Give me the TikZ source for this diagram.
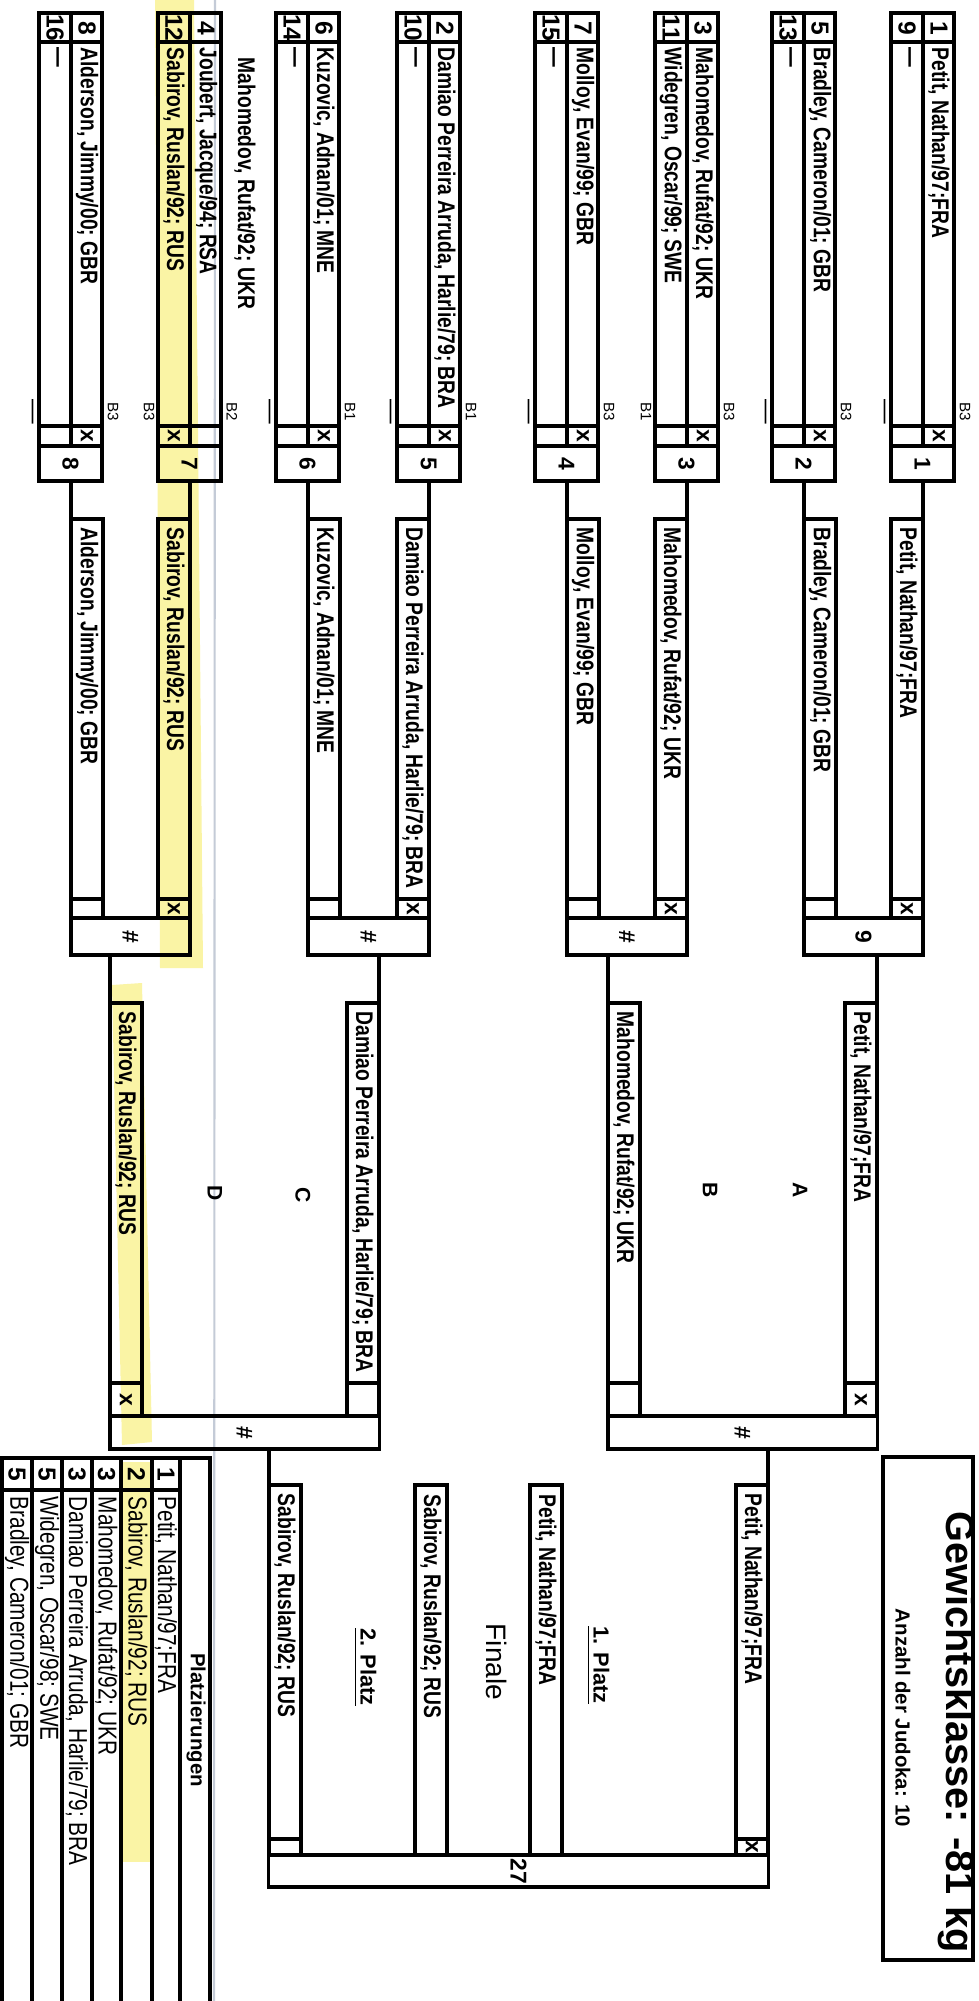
\documentclass[tikz,border=0pt]{standalone}
\usepackage{fontspec}
\setmainfont{Liberation Sans}
\newfontfamily\slimfont[FakeStretch=0.8]{Liberation Sans}
\usepackage{graphicx}
\definecolor{marker}{RGB}{250,244,165}
\definecolor{scanline}{RGB}{196,203,215}

\tikzset{
  frame/.style={line width=0.9pt},
  pname/.style={rotate=-90, anchor=west, inner sep=0pt, font=\slimfont\bfseries\fontsize{6.85}{8}\selectfont},
  tname/.style={rotate=-90, anchor=west, inner sep=0pt, font=\slimfont\fontsize{7.4}{8}\selectfont},
  pnum/.style={rotate=-90, inner sep=0pt, font=\bfseries\fontsize{7}{8}\selectfont},
  boutag/.style={rotate=-90, inner sep=0pt, font=\fontsize{4.3}{5}\selectfont},
  xmark/.style={rotate=-90, inner sep=0pt, font=\bfseries\fontsize{6.5}{7}\selectfont},
  mbox/.style={draw, line width=0.9pt, inner sep=0pt, font=\bfseries\fontsize{6.5}{7}\selectfont},
  poolletter/.style={rotate=-90, inner sep=0pt, font=\bfseries\fontsize{6}{7}\selectfont},
  platz/.style={rotate=-90, inner sep=0pt, font=\bfseries\fontsize{6.2}{7}\selectfont},
}
\newcommand{\nix}{{\fontsize{7}{8}\selectfont\textemdash}}

% first round pool: left x, top no., bottom no., top name, bottom name,
% x-cell offset, top tag, bottom tag, match no.
\newcommand{\pool}[9]{%
  \begin{scope}[shift={(#1,0)}]
    \draw[frame] (0,13) rectangle (63,446);
    \draw[frame] (32,13) -- (32,446) (0,42) -- (63,42) (0,426) -- (63,426);
    \node[pnum] (p#9a) at (48,28) {#2};
    \node[pnum] (p#9b) at (16,28) {#3};
    \node[pname] (p#9an) at (48,47) {#4};
    \node[pname] (p#9bn) at (16,47) {#5};
    \node[xmark] (p#9x) at (#6,436) {x};
    \node[boutag] (p#9at) at (74,412) {#7};
    \node[boutag] (p#9bt) at (-9,412) {#8};
    \node[mbox, minimum width=0.63cm, minimum height=0.35cm] (m#9) at (31.5,463.5) {\rotatebox{-90}{#9}};
  \end{scope}}

% one entry strip: name, left x, top y, x-row y, bottom y, text, mark
\newcommand{\entry}[7]{%
  \draw[frame] (#2,#3) rectangle (#2+32,#5);
  \draw[frame] (#2,#4) -- (#2+32,#4);
  \coordinate (#1) at (#2,#3);
  \coordinate (#1r) at (#2+32,#3);
  \node[pname] (#1t) at (#2+16,#3+8) {#6};
  \node[xmark] (#1x) at (#2+16,{(#4+#5)/2}) {#7};}

\begin{document}
\begin{tikzpicture}[x=0.01cm, y=-0.01cm]
  \fill[white] (0,0) rectangle (978,2001);
  \useasboundingbox (0,0) rectangle (978,2001);
  % highlighter strokes and scanner streak
  \fill[marker] (155,0) -- (194,0) -- (203,968) -- (160,968) -- cycle;
  \fill[marker] (112,985) -- (142,983) -- (152,1442) -- (122,1445) -- cycle;
  \fill[marker] (122,1462) rectangle (152,1862);
  \draw[scanline, line width=0.6pt] (215,0) -- (214,2001);

  % first round
  \pool{891}{1}{9}{Petit, Nathan/97;FRA}{\nix}{48}{B3}{\nix}{1}
  \pool{772}{5}{13}{Bradley, Cameron/01; GBR}{\nix}{48}{B3}{\nix}{2}
  \pool{655}{3}{11}{Mahomedov, Rufat/92; UKR}{Widegren, Oscar/99; SWE}{48}{B3}{B1}{3}
  \pool{535}{7}{15}{Molloy, Evan/99; GBR}{\nix}{48}{B3}{\nix}{4}
  \pool{397}{2}{10}{Damiao Perreira Arruda, Harlie/79; BRA}{\nix}{48}{B1}{\nix}{5}
  \pool{276}{6}{14}{Kuzovic, Adnan/01; MNE}{\nix}{48}{B1}{\nix}{6}
  \pool{158}{4}{12}{Joubert, Jacque/94; RSA}{Sabirov, Ruslan/92; RUS}{16}{B2}{B3}{7}
  \pool{39}{8}{16}{Alderson, Jimmy/00; GBR}{\nix}{48}{B3}{\nix}{8}
  \node[pname] (note) at (245,57) {Mahomedov, Rufat/92; UKR};

  % second round
  \entry{s8}{71}{519}{899}{918}{Alderson, Jimmy/00; GBR}{}
  \entry{s7}{158}{519}{899}{918}{Sabirov, Ruslan/92; RUS}{x}
  \entry{s6}{308}{519}{899}{918}{Kuzovic, Adnan/01; MNE}{}
  \entry{s5}{397}{519}{899}{918}{Damiao Perreira Arruda, Harlie/79; BRA}{x}
  \entry{s4}{567}{519}{899}{918}{Molloy, Evan/99; GBR}{}
  \entry{s3}{655}{519}{899}{918}{Mahomedov, Rufat/92; UKR}{x}
  \entry{s2}{804}{519}{899}{918}{Bradley, Cameron/01; GBR}{}
  \entry{s1}{891}{519}{899}{918}{Petit, Nathan/97;FRA}{x}
  \draw[frame] (m8.south -| s8) -- (s8);
  \draw[frame] (m7.south -| s7r) -- (s7r);
  \draw[frame] (m6.south -| s6) -- (s6);
  \draw[frame] (m5.south -| s5r) -- (s5r);
  \draw[frame] (m4.south -| s4) -- (s4);
  \draw[frame] (m3.south -| s3r) -- (s3r);
  \draw[frame] (m2.south -| s2) -- (s2);
  \draw[frame] (m1.south -| s1r) -- (s1r);
  \node[mbox, minimum width=1.19cm, minimum height=0.37cm] (m12) at (130.5,936.5) {\rotatebox{-90}{\#}};
  \node[mbox, minimum width=1.21cm, minimum height=0.37cm] (m11) at (368.5,936.5) {\rotatebox{-90}{\#}};
  \node[mbox, minimum width=1.20cm, minimum height=0.37cm] (m10) at (627,936.5) {\rotatebox{-90}{\#}};
  \node[mbox, minimum width=1.19cm, minimum height=0.37cm] (m9) at (863.5,936.5) {\rotatebox{-90}{9}};

  % semi finals
  \entry{h12}{110}{1003}{1383}{1416}{Sabirov, Ruslan/92; RUS}{x}
  \entry{h11}{347}{1003}{1383}{1416}{Damiao Perreira Arruda, Harlie/79; BRA}{}
  \entry{h10}{608}{1003}{1383}{1416}{Mahomedov, Rufat/92; UKR}{}
  \entry{h9}{845}{1003}{1383}{1416}{Petit, Nathan/97;FRA}{x}
  \draw[frame] (m12.south -| h12) -- (h12);
  \draw[frame] (m11.south -| h11r) -- (h11r);
  \draw[frame] (m10.south -| h10) -- (h10);
  \draw[frame] (m9.south -| h9r) -- (h9r);
  \node[mbox, minimum width=2.69cm, minimum height=0.33cm] (m13) at (244.5,1432.5) {\rotatebox{-90}{\#}};
  \node[mbox, minimum width=2.69cm, minimum height=0.33cm] (m14) at (742.5,1432.5) {\rotatebox{-90}{\#}};
  \node[poolletter] (pD) at (215,1193) {D};
  \node[poolletter] (pC) at (303,1195) {C};
  \node[poolletter] (pB) at (710,1190) {B};
  \node[poolletter] (pA) at (800,1190) {A};

  % final
  \entry{f13}{269}{1485}{1839}{1855}{Sabirov, Ruslan/92; RUS}{}
  \entry{f14}{736}{1485}{1839}{1855}{Petit, Nathan/97;FRA}{x}
  \draw[frame] (m13.south -| f13) -- (f13);
  \draw[frame] (m14.south -| f14r) -- (f14r);
  \draw[frame] (415,1485) rectangle (447,1855);
  \node[pname] (second) at (431,1494) {Sabirov, Ruslan/92; RUS};
  \draw[frame] (530,1485) rectangle (562,1855);
  \node[pname] (first) at (546,1494) {Petit, Nathan/97;FRA};
  \node[mbox, minimum width=4.99cm, minimum height=0.32cm] (m27) at (518.5,1871) {\rotatebox{-90}{27}};
  \node[platz] (platz2) at (365,1667) {\underline{2. Platz}};
  \node[platz] (platz1) at (598,1665) {\underline{1. Platz}};
  \node[rotate=-90, inner sep=0pt, font=\fontsize{8}{9}\selectfont] (finale) at (497,1662) {Finale};

  % placings
  \draw[frame] (2,2003) -- (2,1458) -- (210,1458) -- (210,2003);
  \draw[frame] (32,1458) -- (32,2003) (62,1458) -- (62,2003) (92,1458) -- (92,2003)
               (121,1458) -- (121,2003) (152,1458) -- (152,2003) (180,1458) -- (180,2003);
  \draw[frame] (2,1490) -- (180,1490);
  \node[platz, font=\bfseries\fontsize{5.8}{7}\selectfont] (plz) at (196,1720) {Platzierungen};
  \node[pnum] (r1) at (166,1474) {1};
  \node[tname] (r1n) at (166,1496) {Petit, Nathan/97;FRA};
  \node[pnum] (r2) at (136.5,1474) {2};
  \node[tname] (r2n) at (136.5,1496) {Sabirov, Ruslan/92; RUS};
  \node[pnum] (r3) at (106.5,1474) {3};
  \node[tname] (r3n) at (106.5,1496) {Mahomedov, Rufat/92; UKR};
  \node[pnum] (r4) at (77,1474) {3};
  \node[tname] (r4n) at (77,1496) {Damiao Perreira Arruda, Harlie/79; BRA};
  \node[pnum] (r5) at (47,1474) {5};
  \node[tname] (r5n) at (47,1496) {Widegren, Oscar/98; SWE};
  \node[pnum] (r6) at (17,1474) {5};
  \node[tname] (r6n) at (17,1496) {Bradley, Cameron/01; GBR};

  % header
  \draw[frame] (883,1457) rectangle (973,1960);
  \node[rotate=-90, inner sep=0pt, font=\bfseries\fontsize{11.3}{13}\selectfont] (title) at (957,1732) {Gewichtsklasse: -81 kg};
  \node[rotate=-90, inner sep=0pt, font=\bfseries\fontsize{5.8}{7}\selectfont] (count) at (903,1718) {Anzahl der Judoka: 10};
\end{tikzpicture}
\end{document}
